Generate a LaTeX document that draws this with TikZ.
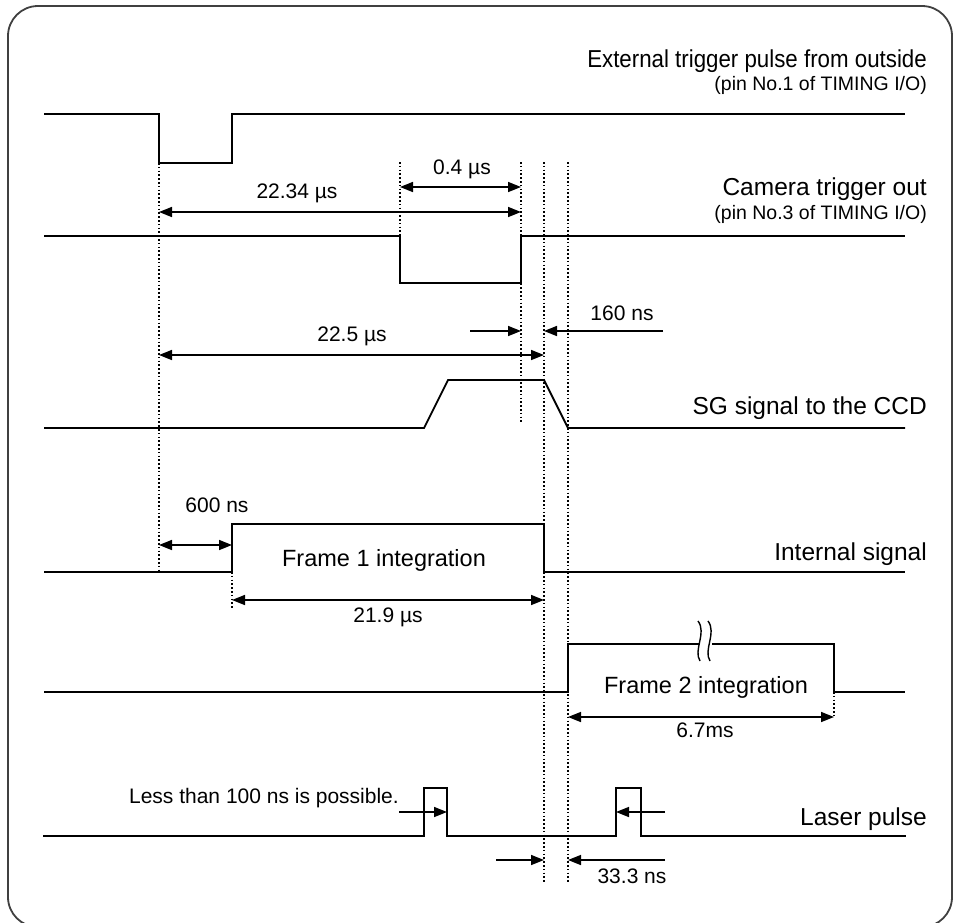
\documentclass[tikz,border=0pt]{standalone}
\usepackage{fontspec}
\setmainfont{Liberation Sans}
\usetikzlibrary{arrows.meta}
\begin{document}
\begin{tikzpicture}[x=1pt,y=-1pt,
  sig/.style={line width=1.8pt, line join=miter},
  guide/.style={line width=1.6pt, dash pattern=on 1.6pt off 2.2pt},
  dim/.style={line width=1.6pt, {Triangle[length=13pt,width=10pt]}-{Triangle[length=13pt,width=10pt]}},
  ptr/.style={line width=1.6pt, -{Triangle[length=13pt,width=10pt]}},
  big/.style={font=\fontsize{24.5}{29}\selectfont, inner sep=0pt, anchor=base east},
  pin/.style={font=\fontsize{19.5}{23}\selectfont, inner sep=0pt, anchor=base east},
  dimlab/.style={font=\fontsize{21}{25}\selectfont, inner sep=0pt, anchor=base},
  frm/.style={font=\fontsize{23.5}{28}\selectfont, inner sep=0pt, anchor=base},
]
\useasboundingbox (0,0) rectangle (958,922);
\begin{scope}
\clip (0,0) rectangle (958,922);
\draw[line width=1.8pt, black!75, rounded corners=30pt] (8,6) rectangle (952,927);
\end{scope}

% signals
\draw[sig] (44,114) -| (159,163) -| (232,114) -- (905,114);
\draw[sig] (44,236) -| (400,283) -| (521,236) -- (905,236);
\draw[sig] (44,428) -- (424,428) -- (448,380) -- (544,380) -- (568,428) -- (905,428);
\draw[sig] (44,572) -| (232,524) -| (544,572) -- (905,572);
\draw[sig] (44,692) -| (568,644) -- (699,644);
\draw[sig] (712,644) -| (834,692) -- (905,692);
\draw[line width=1.4pt] (698,621) .. controls (707,633) and (693,650) .. (700,661);
\draw[line width=1.4pt] (708,621) .. controls (717,633) and (703,650) .. (710,661);
\draw[sig] (43,836) -| (424,788) -| (447,836) -| (616,788) -| (641,836) -- (906,836);

% guides
\coordinate (g1t) at (159,163); \coordinate (g1b) at (159,572);
\coordinate (g2t) at (400,162); \coordinate (g2b) at (400,236);
\coordinate (g3t) at (521,162); \coordinate (g3b) at (521,423);
\coordinate (g4t) at (544,162); \coordinate (g4b) at (544,883);
\coordinate (g5t) at (568,162); \coordinate (g5b) at (568,883);
\coordinate (g6t) at (232,572); \coordinate (g6b) at (232,608);
\coordinate (g7t) at (834,692); \coordinate (g7b) at (834,717);
\foreach \g in {1,...,7} \draw[guide] (g\g t) -- (g\g b);

% dimensions
\coordinate (a1) at (159,212); \coordinate (b1) at (521,212);
\draw[dim] (a1) -- (b1);
\node[dimlab] (l1) at (297,198) {22.34 µs};
\coordinate (a2) at (400,187); \coordinate (b2) at (521,187);
\draw[dim] (a2) -- (b2);
\node[dimlab] (l2) at (462,174) {0.4 µs};
\coordinate (a3) at (159,355); \coordinate (b3) at (544,355);
\draw[dim] (a3) -- (b3);
\node[dimlab] (l3) at (352,341) {22.5 µs};
\coordinate (a4) at (470,331); \coordinate (b4) at (521,331);
\coordinate (c4) at (663,331); \coordinate (d4) at (544,331);
\draw[ptr] (a4) -- (b4);
\draw[ptr] (c4) -- (d4);
\node[dimlab] (l4) at (622,320) {160 ns};
\coordinate (a5) at (159,545); \coordinate (b5) at (232,545);
\draw[dim] (a5) -- (b5);
\node[dimlab] (l5) at (217,512) {600 ns};
\coordinate (a6) at (232,600); \coordinate (b6) at (544,600);
\draw[dim] (a6) -- (b6);
\node[dimlab] (l6) at (388,622) {21.9 µs};
\node[frm] (f1) at (384,566) {Frame 1 integration};
\coordinate (a7) at (568,717); \coordinate (b7) at (834,717);
\draw[dim] (a7) -- (b7);
\node[dimlab] (l7) at (705,737) {6.7ms};
\node[frm] (f2) at (706,693) {Frame 2 integration};
\coordinate (a8) at (399,812); \coordinate (b8) at (447,812);
\coordinate (c8) at (665,812); \coordinate (d8) at (616,812);
\draw[ptr] (a8) -- (b8);
\draw[ptr] (c8) -- (d8);
\node[dimlab, anchor=base east] (l8) at (399,803) {Less than 100 ns is possible.};
\coordinate (a9) at (496,860); \coordinate (b9) at (544,860);
\coordinate (c9) at (665,860); \coordinate (d9) at (568,860);
\draw[ptr] (a9) -- (b9);
\draw[ptr] (c9) -- (d9);
\node[dimlab] (l9) at (632,883) {33.3 ns};

% right labels
\node[big] (s1) at (927,67) {\scalebox{0.91}[1]{External trigger pulse from outside}};
\node[pin] (s1p) at (927,90) {(pin No.1 of TIMING I/O)};
\node[big] (s2) at (927,195) {Camera trigger out};
\node[pin] (s2p) at (927,219) {(pin No.3 of TIMING I/O)};
\node[big] (s3) at (927,414) {SG signal to the CCD};
\node[big] (s4) at (927,560) {Internal signal};
\node[big] (s5) at (927,825) {Laser pulse};
\end{tikzpicture}
\end{document}
